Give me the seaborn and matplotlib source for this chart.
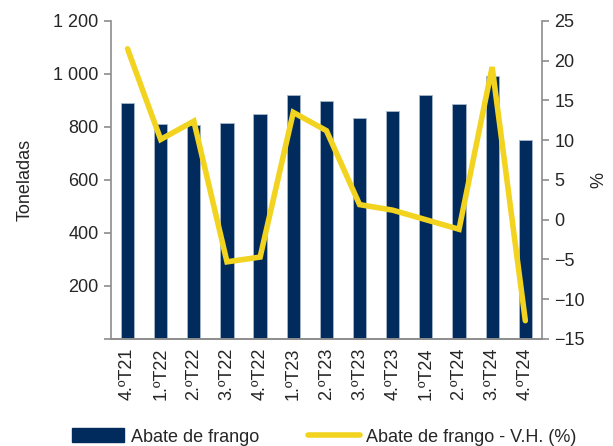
import numpy as np
import pandas as pd
import matplotlib
matplotlib.use("Agg")
import matplotlib.pyplot as plt
from matplotlib.ticker import FuncFormatter, FixedLocator
from matplotlib.lines import Line2D
from matplotlib.patches import Patch
import seaborn as sns

quarters = ["4.ºT21", "1.ºT22", "2.ºT22", "3.ºT22", "4.ºT22", "1.ºT23", "2.ºT23",
            "3.ºT23", "4.ºT23", "1.ºT24", "2.ºT24", "3.ºT24", "4.ºT24"]
toneladas = [890, 812, 806, 816, 849, 921, 898, 833, 860, 921, 887, 991, 750]
var_homologa = [21.5, 10.1, 12.4, -5.3, -4.7, 13.5, 11.2, 1.9, 1.2, 0.0, -1.2, 19.2, -12.7]

navy = "#002B5C"
yellow = "#F2D31F"
grey = "#8C8C8C"

sns.set_style("white")
plt.rcParams["font.family"] = ["Liberation Sans", "DejaVu Sans"]
plt.rcParams["font.size"] = 13

df = pd.DataFrame({"trimestre": quarters, "ton": toneladas, "vh": var_homologa})
df["pos"] = range(len(df))

fig = plt.figure(figsize=(6.13, 4.46), dpi=100)
ax = fig.add_axes([0.181, 0.240, 0.703, 0.713])

sns.barplot(data=df, x="trimestre", y="ton", color=navy, width=0.4,
            edgecolor="#A9B8CC", linewidth=0.6, saturation=1, ax=ax)
ax.set_ylim(0, 1200)
ax.set_xlim(-0.5, len(df) - 0.5)
ax.yaxis.set_major_locator(FixedLocator(range(0, 1201, 200)))
ax.yaxis.set_major_formatter(FuncFormatter(
    lambda v, p: "" if v == 0 else f"{int(v):,}".replace(",", " ")))
ax.set_ylabel("Toneladas", fontsize=13, labelpad=14)
ax.set_xlabel("")
ax.tick_params(axis="x", which="major", length=0, rotation=90, labelsize=13, pad=6)
ax.set_xticks(np.arange(-0.5, len(df), 1), minor=True)
ax.tick_params(axis="x", which="minor", length=5, color=grey, width=1.2)
ax.tick_params(axis="y", length=5, color=grey, width=1.2, labelsize=13, left=True, pad=4)

ax2 = ax.twinx()
sns.lineplot(data=df, x="pos", y="vh", color=yellow, linewidth=4, ax=ax2,
             solid_joinstyle="miter")
ax2.set_ylim(-15, 25)
ax2.set_yticks(range(-15, 26, 5))
ax2.set_ylabel("%", fontsize=13, labelpad=4)
ax2.tick_params(axis="y", length=5, color=grey, width=1.2, labelsize=13, right=True, pad=4)
ax2.set_xlim(-0.5, len(df) - 0.5)

for a in (ax, ax2):
    a.spines["top"].set_visible(False)
    for s in ("left", "right", "bottom"):
        a.spines[s].set_color(grey)
        a.spines[s].set_linewidth(1.2)
ax.spines["right"].set_visible(False)
ax2.spines["left"].set_visible(False)

handles = [Patch(facecolor=navy, edgecolor=navy),
           Line2D([0], [0], color=yellow, linewidth=4)]
fig.legend(handles, ["Abate de frango", "Abate de frango - V.H. (%)"],
           loc="center", bbox_to_anchor=(0.529, 0.02), ncol=2, frameon=False,
           fontsize=13, handlelength=2.9, handleheight=0.8, handletextpad=0.35,
           columnspacing=2.7, borderpad=0)

fig.savefig("out.png", dpi=100)
